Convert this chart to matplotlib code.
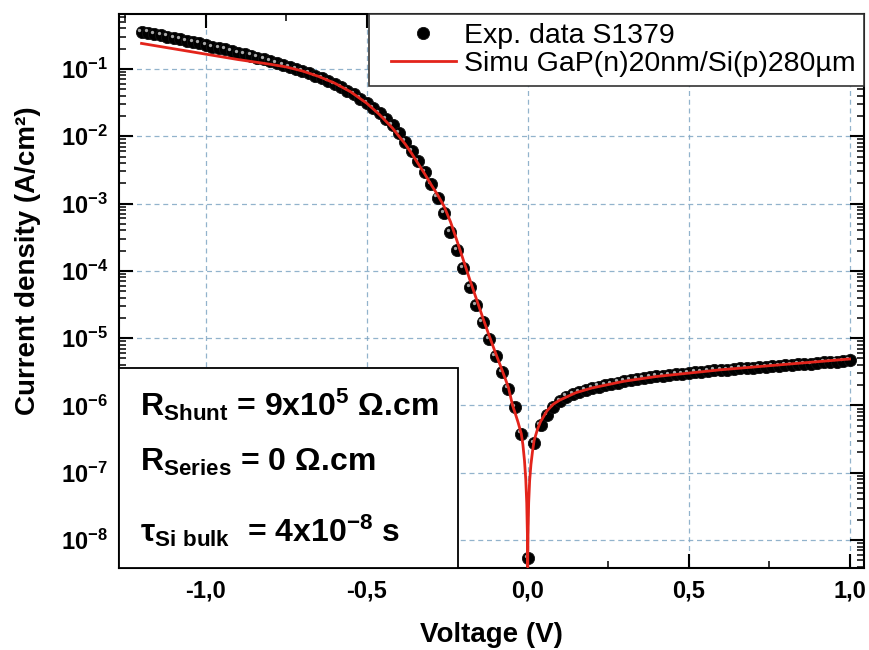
import matplotlib
matplotlib.use("Agg")
import matplotlib.pyplot as plt
import matplotlib.transforms as mtransforms
from matplotlib.patches import Rectangle
from matplotlib.legend_handler import HandlerLine2D
from matplotlib.ticker import LogLocator, MultipleLocator, NullFormatter, FuncFormatter
import numpy as np

plt.rcParams.update({
    "font.family": ["Liberation Sans", "DejaVu Sans"],
    "font.weight": "bold",
    "mathtext.fontset": "custom",
    "mathtext.rm": "Liberation Sans:bold",
    "mathtext.bf": "Liberation Sans:bold",
    "mathtext.it": "Liberation Sans:bold",
    "mathtext.default": "regular",
})

C_RED = "#e3241b"
C_GRID = "#7fa6c4"

exp_v = [-1.20, -1.18, -1.16, -1.14, -1.12, -1.10, -1.08, -1.06, -1.04, -1.02,
         -1.00, -0.98, -0.96, -0.94, -0.92, -0.90, -0.88, -0.86, -0.84, -0.82,
         -0.80, -0.78, -0.76, -0.74, -0.72, -0.70, -0.68, -0.66, -0.64, -0.62,
         -0.60, -0.58, -0.56, -0.54, -0.52, -0.50, -0.48, -0.46, -0.44, -0.42,
         -0.40, -0.38, -0.36, -0.34, -0.32, -0.30, -0.28, -0.26, -0.24, -0.22,
         -0.20, -0.18, -0.16, -0.14, -0.12, -0.10, -0.08, -0.06, -0.04, -0.02,
         0.00,
         0.02, 0.04, 0.06, 0.08, 0.10, 0.12, 0.14, 0.16, 0.18, 0.20,
         0.22, 0.24, 0.26, 0.28, 0.30, 0.32, 0.34, 0.36, 0.38, 0.40,
         0.42, 0.44, 0.46, 0.48, 0.50, 0.52, 0.54, 0.56, 0.58, 0.60,
         0.62, 0.64, 0.66, 0.68, 0.70, 0.72, 0.74, 0.76, 0.78, 0.80,
         0.82, 0.84, 0.86, 0.88, 0.90, 0.92, 0.94, 0.96, 0.98, 1.00]
exp_log_j = [-0.45, -0.46, -0.48, -0.50, -0.52, -0.54, -0.56, -0.58, -0.60, -0.62,
             -0.65, -0.67, -0.69, -0.71, -0.73, -0.76, -0.78, -0.80, -0.83, -0.85,
             -0.88, -0.91, -0.94, -0.97, -1.00, -1.03, -1.06, -1.10, -1.14, -1.18,
             -1.22, -1.27, -1.32, -1.37, -1.44, -1.51, -1.58, -1.66, -1.74, -1.84,
             -1.95, -2.08, -2.22, -2.37, -2.53, -2.71, -2.91, -3.14, -3.42, -3.69,
             -3.96, -4.24, -4.51, -4.76, -5.02, -5.27, -5.50, -5.75, -6.03, -6.42,
             -8.27,
             -6.56, -6.29, -6.14, -6.02, -5.93, -5.87, -5.83, -5.80, -5.77, -5.74,
             -5.72, -5.70, -5.68, -5.66, -5.64, -5.62, -5.61, -5.595, -5.58, -5.57,
             -5.56, -5.55, -5.54, -5.53, -5.52, -5.51, -5.50, -5.49, -5.48, -5.475,
             -5.47, -5.46, -5.45, -5.445, -5.44, -5.43, -5.425, -5.42, -5.41, -5.405,
             -5.40, -5.39, -5.385, -5.38, -5.37, -5.36, -5.355, -5.35, -5.34, -5.33]

# Simulated curve GaP(n)20nm/Si(p)280um
sim_v = [-1.20, -1.10, -1.00, -0.90, -0.80, -0.75, -0.70, -0.65, -0.60, -0.55,
         -0.50, -0.46, -0.42, -0.40, -0.38, -0.36, -0.34, -0.32, -0.30, -0.28,
         -0.26, -0.24, -0.22, -0.20, -0.18, -0.16, -0.14, -0.12, -0.10, -0.08,
         -0.06, -0.047, -0.04, -0.03, -0.02, -0.015, -0.01, -0.006, -0.003, -0.001,
         0.0,
         0.001, 0.003, 0.006, 0.01, 0.015, 0.02, 0.03, 0.04, 0.06, 0.08,
         0.10, 0.15, 0.20, 0.30, 0.40, 0.50, 0.60, 0.70, 0.80, 0.90, 1.00]
sim_log_j = [-0.62, -0.70, -0.78, -0.86, -0.93, -0.97, -1.03, -1.11, -1.21, -1.34,
             -1.51, -1.68, -1.88, -2.00, -2.12, -2.26, -2.41, -2.56, -2.72, -2.87,
             -3.04, -3.27, -3.55, -3.84, -4.13, -4.41, -4.69, -4.96, -5.22, -5.47,
             -5.73, -6.00, -6.10, -6.25, -6.42, -6.58, -6.82, -7.10, -7.45, -7.90,
             -8.40,
             -7.92, -7.45, -7.12, -6.88, -6.68, -6.52, -6.36, -6.24, -6.08, -5.98,
             -5.92, -5.81, -5.74, -5.64, -5.57, -5.52, -5.47, -5.43, -5.39, -5.35, -5.31]

exp_j = np.power(10.0, exp_log_j)
sim_j = np.power(10.0, sim_log_j)


class PaddedHandler(HandlerLine2D):
    """Line handle with some empty room on its left, like the original legend."""
    def create_artists(self, legend, orig_handle, xdescent, ydescent, width, height, fontsize, trans):
        pad = 0.47 * fontsize
        return super().create_artists(legend, orig_handle, xdescent - pad, ydescent,
                                      width - pad, height, fontsize, trans)


fig = plt.figure(figsize=(8.69, 6.5), dpi=100, facecolor="white")
ax = fig.add_axes([119 / 869, 1 - 568 / 650, 745 / 869, 554 / 650])

# experimental points: black balls with a small highlight
h_exp, = ax.plot(exp_v, exp_j, "o", color="black", markersize=8.8, markeredgewidth=0.6,
                 markeredgecolor="#111111", zorder=3, label="Exp. data S1379")
hl = mtransforms.offset_copy(ax.transData, fig=fig, x=-2.2, y=2.2, units="dots")
ax.plot(exp_v, exp_j, "o", color="#a8a8a8", markersize=2.4, markeredgewidth=0,
        transform=hl, zorder=3.1)
h_sim, = ax.plot(sim_v, sim_j, "-", color=C_RED, linewidth=2.0, zorder=4,
                 label="Simu GaP(n)20nm/Si(p)280µm")

ax.set_yscale("log")
ax.set_xlim(-1.27, 1.045)
ax.set_ylim(10 ** -8.416, 10 ** -0.183)

ax.xaxis.set_major_locator(MultipleLocator(0.5))
ax.xaxis.set_minor_locator(MultipleLocator(0.25))
ax.xaxis.set_major_formatter(FuncFormatter(lambda x, p: f"{x:.1f}".replace(".", ",").replace("-0,0", "0,0")))
ax.yaxis.set_major_locator(LogLocator(base=10, numticks=20))
ax.yaxis.set_minor_locator(LogLocator(base=10, subs=np.arange(2, 10), numticks=20))
ax.yaxis.set_minor_formatter(NullFormatter())

ax.tick_params(which="both", direction="in", top=True, right=True)
ax.tick_params(which="major", length=10, width=1.5, pad=8)
ax.tick_params(which="minor", length=5, width=1.1)
ax.tick_params(axis="x", labelsize=17)
ax.tick_params(axis="y", labelsize=17)
for sp in ax.spines.values():
    sp.set_linewidth(1.5)

ax.grid(True, which="major", linestyle=(0, (4, 3)), color=C_GRID, linewidth=0.9, alpha=0.85)
ax.set_axisbelow(True)

ax.set_xlabel("Voltage (V)", fontsize=20, fontweight="bold")
ax.xaxis.set_label_coords(0.5, -0.098)
ax.set_ylabel("Current density (A/cm²)", fontsize=20, fontweight="bold")
ax.yaxis.set_label_coords(-0.105, 0.554)

# parameter box
ax.add_patch(Rectangle((0, 0), 0.455, 0.361, transform=ax.transAxes, facecolor="white",
                       edgecolor="black", linewidth=1.3, zorder=5))
kw = dict(transform=ax.transAxes, fontsize=23, fontweight="bold", zorder=6, va="baseline")
ax.text(0.028, 0.274, r"R$_{\mathregular{Shunt}}$ = 9x10$^{\mathregular{5}}$ Ω.cm", **kw)
ax.text(0.028, 0.175, r"R$_{\mathregular{Series}}$ = 0 Ω.cm", **kw)
ax.text(0.028, 0.047, r"τ$_{\mathregular{Si\ bulk}}$  = 4x10$^{\mathregular{-8}}$ s", **kw)

leg = ax.legend(handles=[h_exp, h_sim], loc="upper right", bbox_to_anchor=(1, 1),
                borderaxespad=0, fancybox=False, edgecolor="#333333", framealpha=1,
                prop=dict(family="Liberation Sans", size=20.5, weight="normal"),
                handlelength=2.75, handletextpad=0.28, labelspacing=0.1, borderpad=0.3,
                numpoints=1, handler_map={h_exp: PaddedHandler(), h_sim: PaddedHandler()})
leg.get_frame().set_linewidth(1.2)
leg.set_zorder(7)

fig.savefig("out.png", dpi=100, facecolor="white")
